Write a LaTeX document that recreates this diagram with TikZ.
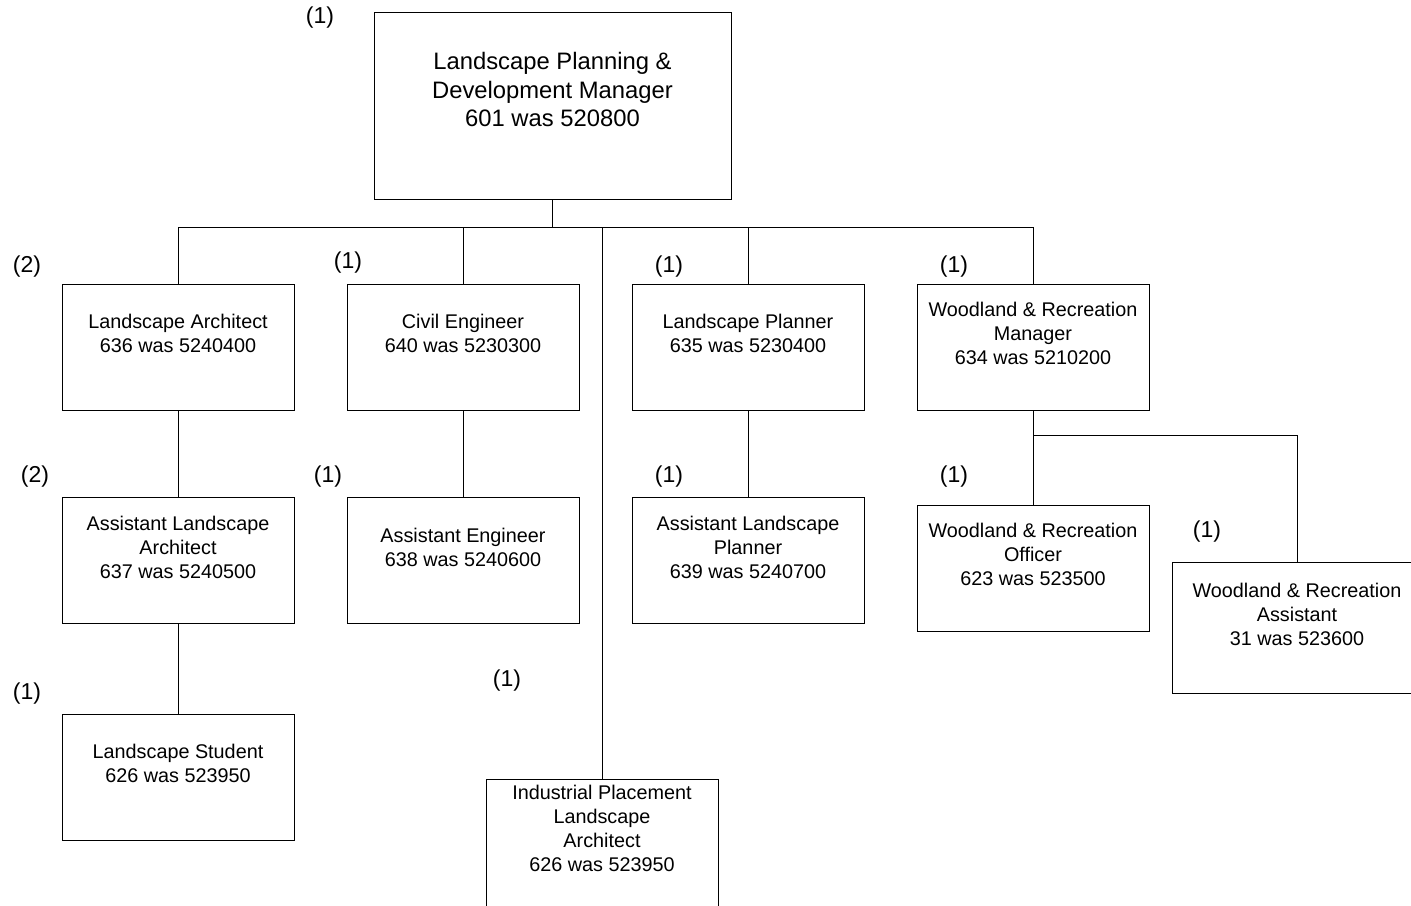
\documentclass[tikz,border=0pt]{standalone}
\usepackage{fontspec}
\setmainfont{Liberation Sans}
\begin{document}
\begin{tikzpicture}[x=1pt, y=-1pt, line width=0.9pt,
    post/.style={draw=black, fill=white, minimum width=232pt, minimum height=126pt, inner sep=0pt},
    posttext/.style={align=center, font=\fontsize{19.8}{24}\selectfont, inner sep=0pt},
    headtext/.style={align=center, font=\fontsize{23.8}{28.5}\selectfont, inner sep=0pt},
    count/.style={font=\fontsize{23}{27}\selectfont, inner sep=0pt}]
        \useasboundingbox (0,0) rectangle (1411,905);
        \clip (0,0) rectangle (1411,905);

        \node[post, minimum width=357pt, minimum height=187pt] (head) at (552.5,105.5) {};
        \node[headtext] (headt) at ([yshift=-78pt]head.north) {Landscape Planning \&\\Development Manager\\601 was 520800};

        \node[post] (la) at (178,347) {};
        \node[post] (ce) at (463,347) {};
        \node[post] (lp) at (748,347) {};
        \node[post] (wrm) at (1033,347) {};
        \node[post] (ala) at (178,560.5) {};
        \node[post] (ae) at (463,560.5) {};
        \node[post] (alp) at (748,560.5) {};
        \node[post] (wro) at (1033,568) {};
        \node[post, minimum width=250pt, minimum height=131pt] (wra) at (1297,627.5) {};
        \node[post] (ls) at (178,777) {};
        \node[post, minimum height=132pt] (ipla) at (602,845) {};

        \node[posttext] (lat) at ([yshift=-50pt]la.north) {Landscape Architect\\636 was 5240400};
        \node[posttext] (cet) at ([yshift=-50pt]ce.north) {Civil Engineer\\640 was 5230300};
        \node[posttext] (lpt) at ([yshift=-50pt]lp.north) {Landscape Planner\\635 was 5230400};
        \node[posttext] (wrmt) at ([yshift=-50pt]wrm.north) {Woodland \& Recreation\\Manager\\634 was 5210200};
        \node[posttext] (alat) at ([yshift=-50pt]ala.north) {Assistant Landscape\\Architect\\637 was 5240500};
        \node[posttext] (aet) at ([yshift=-50pt]ae.north) {Assistant Engineer\\638 was 5240600};
        \node[posttext] (alpt) at ([yshift=-50pt]alp.north) {Assistant Landscape\\Planner\\639 was 5240700};
        \node[posttext] (wrot) at ([yshift=-50pt]wro.north) {Woodland \& Recreation\\Officer\\623 was 523500};
        \node[posttext] (wrat) at ([yshift=-53pt]wra.north) {Woodland \& Recreation\\Assistant\\31 was 523600};
        \node[posttext] (lst) at ([yshift=-50pt]ls.north) {Landscape Student\\626 was 523950};
        \node[posttext] (iplat) at ([yshift=-50pt]ipla.north) {Industrial Placement\\Landscape\\Architect\\626 was 523950};

        \draw (head.south) -- ++(0,28) -| (la.north);
        \draw (head.south) -- ++(0,28) -| (ce.north);
        \draw (head.south) -- ++(0,28) -| (ipla.north);
        \draw (head.south) -- ++(0,28) -| (lp.north);
        \draw (head.south) -- ++(0,28) -| (wrm.north);
        \draw (la.south) -- (ala.north);
        \draw (ala.south) -- (ls.north);
        \draw (ce.south) -- (ae.north);
        \draw (lp.south) -- (alp.north);
        \draw (wrm.south) -- (wro.north);
        \draw (wrm.south) -- ++(0,25) -| (wra.north);

        \node[count] (nhead) at (320,18) {(1)};
        \node[count] (nla) at (27,267) {(2)};
        \node[count] (nce) at (348,263) {(1)};
        \node[count] (nlp) at (669,267) {(1)};
        \node[count] (nwrm) at (954,267) {(1)};
        \node[count] (nala) at (35,477) {(2)};
        \node[count] (nae) at (328,477) {(1)};
        \node[count] (nalp) at (669,477) {(1)};
        \node[count] (nwro) at (954,477) {(1)};
        \node[count] (nwra) at (1207,532) {(1)};
        \node[count] (nls) at (27,694) {(1)};
        \node[count] (nipla) at (507,681) {(1)};
\end{tikzpicture}
\end{document}
